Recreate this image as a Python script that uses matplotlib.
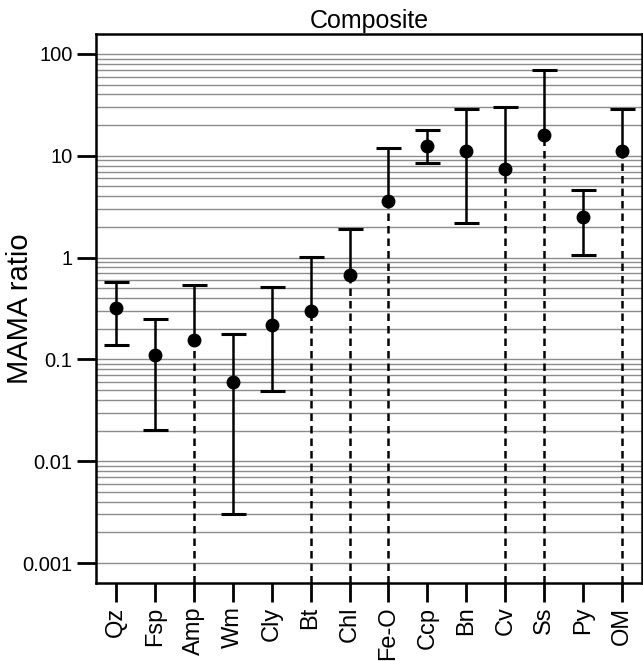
"""Composite MAMA ratio per mineral group, log scale with upper/lower bounds."""

import matplotlib
matplotlib.use("Agg")
import matplotlib.pyplot as plt
import numpy as np

plt.rcParams["font.family"] = ["Liberation Sans", "DejaVu Sans"]

minerals = ["Qz", "Fsp", "Amp", "Wm", "Cly", "Bt", "Chl",
            "Fe-O", "Ccp", "Bn", "Cv", "Ss", "Py", "OM"]
ratio = [0.32, 0.11, 0.155, 0.06, 0.22, 0.30, 0.67,
         3.6, 12.4, 11.2, 7.45, 16.1, 2.52, 11.2]
upper = [0.57, 0.252, 0.535, 0.176, 0.51, 1.02, 1.89,
         11.8, 17.7, 28.9, 30.3, 69.6, 4.6, 28.9]
# nan = no lower bound (drawn as a dashed line to the axis floor)
lower = [0.137, 0.0204, np.nan, 0.003, 0.049, np.nan, np.nan,
         np.nan, 8.45, 2.17, np.nan, np.nan, 1.06, np.nan]

y_ticks = [0.001, 0.01, 0.1, 1, 10, 100]
y_ticklabels = ["0.001", "0.01", "0.1", "1", "10", "100"]
YMIN, YMAX = 6.37e-4, 157

fig = plt.figure(figsize=(6.43, 6.61), dpi=100)
ax = fig.add_axes([0.1493, 0.118, 0.8491, 0.8306])
ax.set_yscale("log")
ax.set_ylim(YMIN, YMAX)

x = np.arange(1, len(minerals) + 1)
ratio = np.array(ratio)
upper = np.array(upper)
lower = np.array(lower)
open_low = np.isnan(lower)

# horizontal grid at every 1..9 x 10^k between 0.001 and 100
for k in range(-3, 2):
    for m in range(1, 10):
        ax.axhline(m * 10.0 ** k, color="#8c8c8c", lw=1.0, zorder=0)
ax.axhline(100, color="#8c8c8c", lw=1.0, zorder=0)

# stems and caps
stem_lo = np.where(open_low, ratio, lower)
ax.vlines(x, stem_lo, upper, color="black", lw=1.8, zorder=2)
ax.plot(x, upper, ls="none", marker="_", ms=18, mew=2.2, color="black", zorder=2)
ax.plot(x[~open_low], lower[~open_low], ls="none", marker="_", ms=18, mew=2.2,
        color="black", zorder=2)
ax.vlines(x[open_low], YMIN, ratio[open_low], color="black", lw=1.8,
          linestyles=(0, (3, 2)), zorder=2)
ax.plot(x, ratio, ls="none", marker="o", ms=9, color="black", zorder=3)

ax.set_xlim(0.49, len(minerals) + 0.51)
ax.set_xticks(x)
ax.set_xticklabels(minerals, rotation=90, fontsize=17)
ax.set_yticks(y_ticks)
ax.set_yticklabels(y_ticklabels, fontsize=14.5)
ax.yaxis.set_minor_locator(matplotlib.ticker.NullLocator())
ax.tick_params(axis="y", length=14, width=2, pad=3)
ax.tick_params(axis="x", length=14, width=2, pad=3)

ax.set_ylabel("MAMA ratio", fontsize=21)
ax.yaxis.set_label_coords(-0.113, 0.5)
ax.set_title("Composite", fontsize=18, pad=4)

for sp in ax.spines.values():
    sp.set_linewidth(1.8)

fig.savefig("out.png", dpi=100)
